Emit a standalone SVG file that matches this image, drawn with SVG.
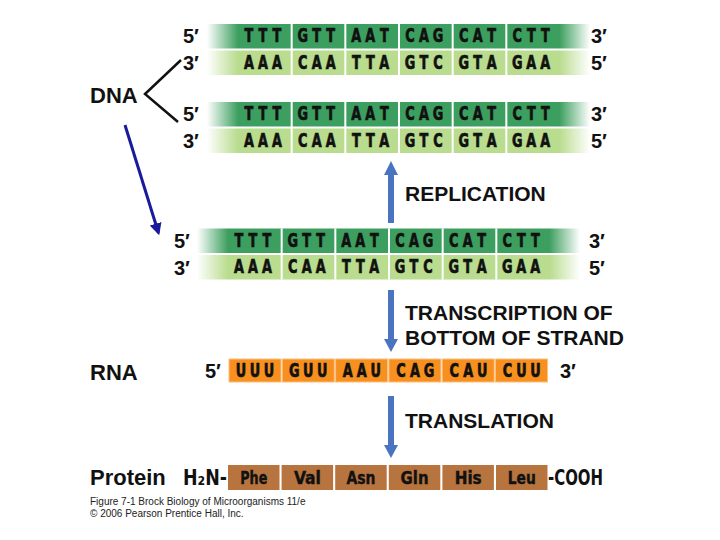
<svg xmlns="http://www.w3.org/2000/svg" width="720" height="540" viewBox="0 0 720 540">
<defs>
<style>
.lbl{font-family:"Liberation Sans",Arial,sans-serif;font-weight:bold;font-size:22px;fill:#111}
.end{font-family:"Liberation Sans",Arial,sans-serif;font-weight:bold;font-size:20px;fill:#111}
.nt{font-family:"DejaVu Sans Condensed","DejaVu Sans",sans-serif;font-weight:bold;font-size:19px;text-anchor:middle;fill:#111;stroke:#111;stroke-width:0.7}
.step{font-family:"Liberation Sans",Arial,sans-serif;font-weight:bold;font-size:21px;fill:#111}
.aa{font-family:"DejaVu Sans Condensed","DejaVu Sans",sans-serif;font-weight:bold;font-size:18px;text-anchor:middle;fill:#111;stroke:#111;stroke-width:0.4}
.term{font-family:"DejaVu Sans Condensed","DejaVu Sans",sans-serif;font-weight:bold;font-size:22px;fill:#111}
.cap{font-family:"Liberation Sans",Arial,sans-serif;font-size:10px;fill:#222}
.div{stroke:#fff;stroke-width:2}
.rbox{fill:#f7901e;stroke:#fcc080;stroke-width:1}
.pbox{fill:#b8743f}
.blue{fill:#4a74c0}
</style>
<linearGradient id="gTop" x1="0" y1="0" x2="1" y2="0">
<stop offset="0" stop-color="#3d9f5f" stop-opacity="0"/>
<stop offset="0.081" stop-color="#3d9f5f"/>
<stop offset="0.92" stop-color="#3d9f5f"/>
<stop offset="1" stop-color="#3d9f5f" stop-opacity="0"/>
</linearGradient>
<linearGradient id="gBot" x1="0" y1="0" x2="1" y2="0">
<stop offset="0" stop-color="#b9dc8e" stop-opacity="0"/>
<stop offset="0.081" stop-color="#b9dc8e"/>
<stop offset="0.92" stop-color="#b9dc8e"/>
<stop offset="1" stop-color="#b9dc8e" stop-opacity="0"/>
</linearGradient>
<marker id="navyHead" viewBox="0 0 10 10" refX="8" refY="5" markerWidth="4" markerHeight="4" orient="auto">
<path d="M0,0 L10,5 L0,10 Z" fill="#1a1a9a"/>
</marker>
</defs>
<rect width="720" height="540" fill="#fff"/>

<g id="labels">
<text class="lbl" x="90" y="103">DNA</text>
<text class="lbl" x="90" y="380">RNA</text>
<text class="lbl" x="90" y="485">Protein</text>
</g>

<g id="dna-pair-1">
<rect x="207" y="24" width="383" height="24.5" fill="url(#gTop)"/>
<rect x="207" y="50.5" width="383" height="24.5" fill="url(#gBot)"/>
<path class="div" d="M291.67,24V75M345.33,24V75M399,24V75M452.67,24V75M506.33,24V75"/>
<g transform="scale(0.75,1)">
<text class="nt" y="42.5"><tspan x="332 350.67 369.33">TTT</tspan><tspan x="403.6 422.27 440.93">GTT</tspan><tspan x="475.07 493.73 512.4">AAT</tspan><tspan x="546.67 565.33 584">CAG</tspan><tspan x="618.27 636.93 655.6">CAT</tspan><tspan x="689.73 708.4 727.07">CTT</tspan></text>
<text class="nt" y="69"><tspan x="332 350.67 369.33">AAA</tspan><tspan x="403.6 422.27 440.93">CAA</tspan><tspan x="475.07 493.73 512.4">TTA</tspan><tspan x="546.67 565.33 584">GTC</tspan><tspan x="618.27 636.93 655.6">GTA</tspan><tspan x="689.73 708.4 727.07">GAA</tspan></text>
</g>
<text class="end" x="183" y="43">5′</text>
<text class="end" x="183" y="70">3′</text>
<text class="end" x="591" y="43">3′</text>
<text class="end" x="591" y="70">5′</text>
</g>

<g id="dna-pair-2" transform="translate(0,78)">
<rect x="207" y="24" width="383" height="24.5" fill="url(#gTop)"/>
<rect x="207" y="50.5" width="383" height="24.5" fill="url(#gBot)"/>
<path class="div" d="M291.67,24V75M345.33,24V75M399,24V75M452.67,24V75M506.33,24V75"/>
<g transform="scale(0.75,1)">
<text class="nt" y="42.5"><tspan x="332 350.67 369.33">TTT</tspan><tspan x="403.6 422.27 440.93">GTT</tspan><tspan x="475.07 493.73 512.4">AAT</tspan><tspan x="546.67 565.33 584">CAG</tspan><tspan x="618.27 636.93 655.6">CAT</tspan><tspan x="689.73 708.4 727.07">CTT</tspan></text>
<text class="nt" y="69"><tspan x="332 350.67 369.33">AAA</tspan><tspan x="403.6 422.27 440.93">CAA</tspan><tspan x="475.07 493.73 512.4">TTA</tspan><tspan x="546.67 565.33 584">GTC</tspan><tspan x="618.27 636.93 655.6">GTA</tspan><tspan x="689.73 708.4 727.07">GAA</tspan></text>
</g>
<text class="end" x="183" y="43">5′</text>
<text class="end" x="183" y="70">3′</text>
<text class="end" x="591" y="43">3′</text>
<text class="end" x="591" y="70">5′</text>
</g>

<g id="dna-pair-3" transform="translate(-10,204.5)">
<rect x="207" y="24" width="383" height="24.5" fill="url(#gTop)"/>
<rect x="207" y="50.5" width="383" height="24.5" fill="url(#gBot)"/>
<path class="div" d="M291.67,24V75M345.33,24V75M399,24V75M452.67,24V75M506.33,24V75"/>
<g transform="scale(0.75,1)">
<text class="nt" y="42.5"><tspan x="332 350.67 369.33">TTT</tspan><tspan x="403.6 422.27 440.93">GTT</tspan><tspan x="475.07 493.73 512.4">AAT</tspan><tspan x="546.67 565.33 584">CAG</tspan><tspan x="618.27 636.93 655.6">CAT</tspan><tspan x="689.73 708.4 727.07">CTT</tspan></text>
<text class="nt" y="69"><tspan x="332 350.67 369.33">AAA</tspan><tspan x="403.6 422.27 440.93">CAA</tspan><tspan x="475.07 493.73 512.4">TTA</tspan><tspan x="546.67 565.33 584">GTC</tspan><tspan x="618.27 636.93 655.6">GTA</tspan><tspan x="689.73 708.4 727.07">GAA</tspan></text>
</g>
<text class="end" x="184" y="43">5′</text>
<text class="end" x="184" y="70">3′</text>
<text class="end" x="599" y="43">3′</text>
<text class="end" x="599" y="70">5′</text>
</g>

<g id="rna">
<rect class="rbox" x="229" y="359" width="52" height="23"/>
<rect class="rbox" x="282.3" y="359" width="52" height="23"/>
<rect class="rbox" x="335.6" y="359" width="52" height="23"/>
<rect class="rbox" x="388.9" y="359" width="52" height="23"/>
<rect class="rbox" x="442.2" y="359" width="52" height="23"/>
<rect class="rbox" x="495.5" y="359" width="52" height="23"/>
<g transform="scale(0.75,1)">
<text class="nt" y="377"><tspan x="321.33 340 358.67">UUU</tspan><tspan x="392.4 411.07 429.73">GUU</tspan><tspan x="463.47 482.13 500.8">AAU</tspan><tspan x="534.53 553.2 571.87">CAG</tspan><tspan x="605.6 624.27 642.93">CAU</tspan><tspan x="676.67 695.33 714">CUU</tspan></text>
</g>
<text class="end" x="205" y="378">5′</text>
<text class="end" x="560" y="378">3′</text>
</g>

<g id="protein">
<text class="term" x="183" y="485" textLength="44" lengthAdjust="spacingAndGlyphs">H₂N-</text>
<rect class="pbox" x="228" y="465" width="51.5" height="25"/>
<rect class="pbox" x="281.6" y="465" width="51.5" height="25"/>
<rect class="pbox" x="335.2" y="465" width="51.5" height="25"/>
<rect class="pbox" x="388.8" y="465" width="51.5" height="25"/>
<rect class="pbox" x="442.4" y="465" width="51.5" height="25"/>
<rect class="pbox" x="496" y="465" width="51.5" height="25"/>
<text class="aa" x="253.8" y="484" textLength="27" lengthAdjust="spacingAndGlyphs">Phe</text>
<text class="aa" x="307.4" y="484" textLength="27" lengthAdjust="spacingAndGlyphs">Val</text>
<text class="aa" x="361" y="484" textLength="29" lengthAdjust="spacingAndGlyphs">Asn</text>
<text class="aa" x="414.6" y="484" textLength="28" lengthAdjust="spacingAndGlyphs">Gln</text>
<text class="aa" x="468.2" y="484" textLength="27" lengthAdjust="spacingAndGlyphs">His</text>
<text class="aa" x="521.8" y="484" textLength="28" lengthAdjust="spacingAndGlyphs">Leu</text>
<text class="term" x="548" y="485" textLength="55" lengthAdjust="spacingAndGlyphs">-COOH</text>
</g>

<g id="step-labels">
<text class="step" x="405" y="201">REPLICATION</text>
<text class="step" x="405" y="320">TRANSCRIPTION OF</text>
<text class="step" x="405" y="345">BOTTOM OF STRAND</text>
<text class="step" x="405" y="428">TRANSLATION</text>
</g>

<g id="connectors">
<polyline points="181,60 145,94 178,122" fill="none" stroke="#111" stroke-width="2.5"/>
<line x1="125" y1="125" x2="158.5" y2="233" stroke="#1a1a9a" stroke-width="3" marker-end="url(#navyHead)"/>
<path class="blue" d="M388,223V175H384L391,161L398,175H394V223Z"/>
<path class="blue" d="M388,290V339H384L391,352L398,339H394V290Z"/>
<path class="blue" d="M388,396V445H384L391,458L398,445H394V396Z"/>
</g>

<g id="caption">
<text class="cap" x="90" y="505">Figure 7-1  Brock Biology of Microorganisms 11/e</text>
<text class="cap" x="90" y="517">© 2006 Pearson Prentice Hall, Inc.</text>
</g>
</svg>
